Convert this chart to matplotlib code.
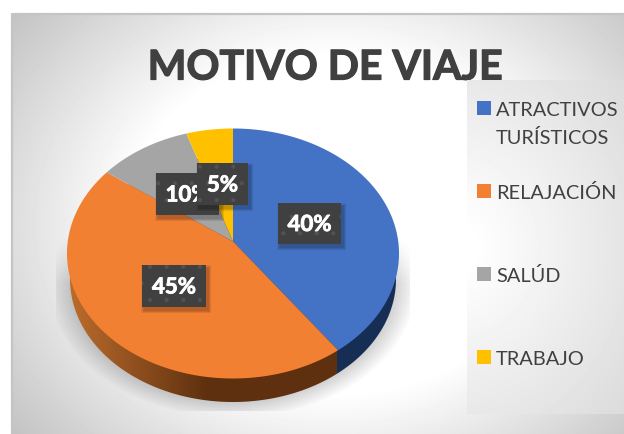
import numpy as np
import matplotlib
matplotlib.use("Agg")
import matplotlib.pyplot as plt
from matplotlib.patches import Rectangle, Polygon
import matplotlib.patheffects as pe

title = "MOTIVO DE VIAJE"
categories = ["ATRACTIVOS\nTURÍSTICOS", "RELAJACIÓN", "SALÚD", "TRABAJO"]
values = [40, 45, 10, 5]
colors = ["#4472C4", "#F28033", "#A5A5A5", "#FFC000"]
label_boxes = [(278, 204, 63, 41), (142, 266, 64, 42), (156, 174, 63, 42), (197, 164, 51, 42)]
legend_y = [109, 191.5, 275, 358]

plt.rcParams["font.family"] = ["Lato", "DejaVu Sans"]
plt.rcParams["hatch.linewidth"] = 0.6
W, H = 624, 435
fig = plt.figure(figsize=(W / 100, H / 100), dpi=100)
ax = fig.add_axes([0, 0, 1, 1])
ax.set_xlim(0, W)
ax.set_ylim(H, 0)
ax.axis("off")

yy, xx = np.mgrid[0:H, 0:W] + 0.5


def box_clip(x, y, w, h):
    return Polygon([(x, y), (x + w, y), (x + w, y + h), (x, y + h)], transform=ax.transData)


# chart background
d = np.hypot((xx - 335) / 320, (yy - 225) / 260)
bg = 1 - 0.37 * np.clip(d - 0.65, 0, None)
bg = np.clip(bg, 0, 1)
ax.imshow(bg, extent=(0, W, H, 0), cmap="gray", vmin=0, vmax=1, zorder=0, aspect="auto",
          clip_path=box_clip(12, 15, W - 12, H - 15))
ax.plot([12, 12, W], [H, 15, 15], color="#c4c4c4", lw=1.6, zorder=1)

# title
ax.text(325, 69, title, fontsize=29.5, fontweight="bold", color="#404040",
        ha="center", va="center", zorder=2,
        path_effects=[pe.withStroke(linewidth=0.9, foreground="#404040")])

# legend panel
d2 = np.hypot((xx - 455) / 190, (yy - 248) / 210)
lg = 1 - 0.13 * np.clip(d2 - 0.1, 0, 1.2)
ax.imshow(lg, extent=(0, W, H, 0), cmap="gray", vmin=0, vmax=1, zorder=3, aspect="auto",
          clip_path=box_clip(467, 81, W - 467, 334))

# pie geometry
cx, cy, rx, ry = 233, 254.5, 166, 125
apex_y = 242.5
low_cy, low_rx, low_ry = 280, 163, 123


def rim(theta):
    dx, dy = np.sin(theta) * rx, -np.cos(theta) * ry
    oy = apex_y - cy
    a = (dx / rx) ** 2 + (dy / ry) ** 2
    b = 2 * oy * dy / ry ** 2
    c = (oy / ry) ** 2 - 1
    t = (-b + np.sqrt(b * b - 4 * a * c)) / (2 * a)
    return cx + t * dx, apex_y + t * dy


# shadow
e = np.hypot((xx - cx) / 176, (yy - 284) / 129)
sh = np.clip((1.05 - e) / 0.2, 0, 1) * np.clip((yy - 235) / 50, 0, 1)
rgba = np.zeros((H, W, 4))
rgba[..., 3] = 0.28 * sh
ax.imshow(rgba, extent=(0, W, H, 0), zorder=4, aspect="auto",
          clip_path=box_clip(56, 200, 354, 212))

# side wall
fractions = np.cumsum([0] + values) / sum(values)
split_x = rim(fractions[1] * 2 * np.pi)[0] - 1
t = np.clip((xx - 72) / 135, 0, 1)[..., None]
side = (1 - t) * np.array([0.73, 0.42, 0.17]) + t * np.array([0.37, 0.19, 0.06])
side[xx > split_x] = np.array([0.09, 0.18, 0.33])
ang = np.linspace(0, 2 * np.pi, 361)
low = Polygon(np.c_[cx + low_rx * np.cos(ang), low_cy + low_ry * np.sin(ang)], transform=ax.transData)
ax.imshow(side, extent=(0, W, H, 0), zorder=5, aspect="auto", clip_path=low)

# pie slices, clockwise from the top
for i, col in enumerate(colors):
    th = np.linspace(fractions[i], fractions[i + 1], 200) * 2 * np.pi
    px, py = rim(th)
    ax.fill(np.r_[cx, px], np.r_[apex_y, py], color=col, lw=0, zorder=6)

# data labels
for i, (v, (x, y, w, h)) in enumerate(zip(values, label_boxes)):
    z = 7 + i * 0.1
    for k in range(6, 0, -1):
        ax.add_patch(Rectangle((x + 2 - k / 2, y + 3 - k / 2), w + k, h + k, color="black",
                               alpha=0.045, lw=0, zorder=z))
    ax.add_patch(Rectangle((x, y), w, h, facecolor="#404040", edgecolor="#525252", hatch=".",
                           lw=0, zorder=z + 0.01))
    ax.text(x + w / 2, y + h / 2 + 1, f"{v}%", color="white", fontsize=16, fontweight="bold",
            ha="center", va="center", zorder=z + 0.02,
            path_effects=[pe.withStroke(linewidth=0.6, foreground="white")])

# legend
for name, col, y in zip(categories, colors, legend_y):
    ax.add_patch(Rectangle((476.5, y - 7), 14, 14, color=col, lw=0, zorder=8))
    lines = name.split("\n")
    for j, line in enumerate(lines):
        ax.text(496, y + 1.5 + j * 28, line, fontsize=14.4, color="#404040", ha="left", va="center", zorder=8)

fig.savefig("out.png", dpi=100)
